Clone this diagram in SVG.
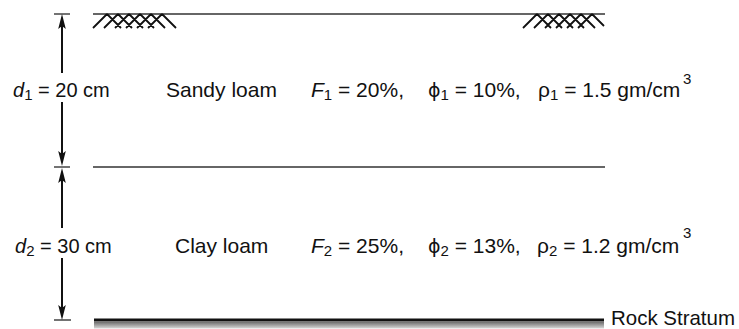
<svg xmlns="http://www.w3.org/2000/svg" width="739" height="329" viewBox="0 0 739 329">
<style>
.t{font-family:"Liberation Sans",Arial,sans-serif;font-size:21px;fill:#111}
.tl{font-family:"Liberation Sans",Arial,sans-serif;font-size:20px;fill:#111}
.i{font-style:italic}
.sub{font-size:15px}
.sup{font-size:15px}
.gl{stroke:#333;stroke-width:1.5;fill:none}
.tick{stroke:#444;stroke-width:1.5}
.dim{stroke:#111;stroke-width:2;fill:none}
.up{marker-end:url(#ah)}
.hatch{stroke:#111;stroke-width:1.8;fill:none}
</style>
<defs>
<marker id="ah" markerUnits="userSpaceOnUse" markerWidth="20" markerHeight="12" viewBox="-10 -6 20 12" refX="0" refY="0" orient="auto" overflow="visible">
<path d="M8,0 L-7,-3.8 L-4,0 L-7,3.8 Z" fill="#111"/>
</marker>
<linearGradient id="shade" x1="0" y1="0" x2="0" y2="1">
<stop offset="0" stop-color="#666"/>
<stop offset="1" stop-color="#d8d8d8"/>
</linearGradient>
</defs>

<g id="ground">
<line class="gl" x1="93" y1="14" x2="605" y2="14"/>
<path class="hatch" d="M93,28 L107,14 M104,28 L118,14 M115,28 L129,14 M126,28 L140,14 M137,28 L151,14 M148,28 L162,14 M107,14 L121,28 M118,14 L132,28 M129,14 L143,28 M140,14 L154,28 M151,14 L165,28 M162,14 L176,28"/>
<path class="hatch" d="M523,28 L537,14 M534,28 L548,14 M545,28 L559,14 M556,28 L570,14 M567,28 L581,14 M578,28 L592,14 M537,14 L551,28 M548,14 L562,28 M559,14 L573,28 M570,14 L584,28 M581,14 L595,28 M592,14 L604,26"/>
</g>

<g id="interface">
<line class="gl" x1="93" y1="167" x2="605" y2="167"/>
</g>

<g id="rock">
<rect x="94" y="318.5" width="510" height="3" fill="#111"/>
<rect x="94" y="321.5" width="510" height="7" fill="url(#shade)"/>
<text class="t" x="611" y="325" font-size="19" textLength="124" lengthAdjust="spacingAndGlyphs">Rock Stratum</text>
</g>

<g id="ticks">
<line class="tick" x1="54" y1="14" x2="70" y2="14"/>
<line class="tick" x1="54" y1="167" x2="70" y2="167"/>
<line class="tick" x1="54" y1="320" x2="71" y2="320"/>
</g>

<g id="connectors">
<line class="dim up" x1="62" y1="73" x2="62" y2="22"/>
<line class="dim up" x1="62" y1="102" x2="62" y2="158"/>
<line class="dim up" x1="62" y1="228" x2="62" y2="176"/>
<line class="dim up" x1="62" y1="258" x2="62" y2="312"/>
</g>

<g id="layer1">
<text class="tl" y="97"><tspan x="13" class="i">d</tspan><tspan class="sub" dy="3">1</tspan><tspan dy="-3"> = 20 cm</tspan></text>
<text class="t" x="166" y="97">Sandy loam</text>
<text class="t" y="97"><tspan x="311" class="i">F</tspan><tspan class="sub" dy="3">1</tspan><tspan dy="-3"> = 20%,</tspan></text>
<text class="t" y="97"><tspan x="428" font-family="'DejaVu Sans',sans-serif" font-size="19">ϕ</tspan><tspan class="sub" dy="3">1</tspan><tspan dy="-3"> = 10%,</tspan></text>
<text class="t" y="97"><tspan x="538">ρ</tspan><tspan class="sub" dy="3">1</tspan><tspan dy="-3"> = 1.5 gm/cm</tspan><tspan class="sup" x="683" dy="-13">3</tspan></text>
</g>

<g id="layer2">
<text class="tl" y="253"><tspan x="15" class="i">d</tspan><tspan class="sub" dy="3">2</tspan><tspan dy="-3"> = 30 cm</tspan></text>
<text class="t" x="175" y="253">Clay loam</text>
<text class="t" y="253"><tspan x="311" class="i">F</tspan><tspan class="sub" dy="3">2</tspan><tspan dy="-3"> = 25%,</tspan></text>
<text class="t" y="253"><tspan x="428" font-family="'DejaVu Sans',sans-serif" font-size="19">ϕ</tspan><tspan class="sub" dy="3">2</tspan><tspan dy="-3"> = 13%,</tspan></text>
<text class="t" y="253"><tspan x="537">ρ</tspan><tspan class="sub" dy="3">2</tspan><tspan dy="-3"> = 1.2 gm/cm</tspan><tspan class="sup" x="683" dy="-15">3</tspan></text>
</g>
</svg>
